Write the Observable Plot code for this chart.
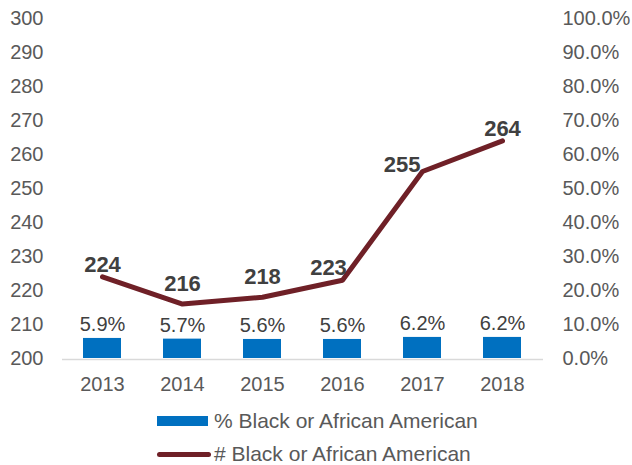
<!DOCTYPE html>
<html><head><meta charset="utf-8">
<script src="https://cdn.jsdelivr.net/npm/d3@7"></script>
<script src="https://cdn.jsdelivr.net/npm/@observablehq/plot@0.6"></script>
<style>
body{margin:0;background:#fff;font-family:"Liberation Sans",Arial,sans-serif;}
#wrap{position:relative;width:632px;height:465px;}
#chart{position:absolute;left:0;top:0;}
.leg{position:absolute;left:157px;display:flex;align-items:center;font-size:21px;line-height:16px;height:16px;color:#595959;white-space:nowrap;}
.sw-bar{width:51px;height:10px;background:#0070C0;margin-right:6px;}
.sw-line{width:54px;height:5px;background:#6f2027;border-radius:3px;margin-right:3px;}
</style></head><body>
<div id="wrap"><div id="chart"></div>
<div class="leg" style="top:413px"><div class="sw-bar"></div><span>% Black or African American</span></div>
<div class="leg" style="top:446px"><div class="sw-line"></div><span># Black or African American</span></div>
</div>
<script>
const years = ["2013", "2014", "2015", "2016", "2017", "2018"];
const pctBlack = [5.9, 5.7, 5.6, 5.6, 6.2, 6.2];
const numBlack = [224, 216, 218, 223, 255, 264];
const leftTicks = [200, 210, 220, 230, 240, 250, 260, 270, 280, 290, 300];

const data = years.map((y, i) => ({year: y, pct: pctBlack[i], num: numBlack[i]}));
// One shared y scale: counts 200–300 on the left; the right axis reads p% at 200 + p
const pctToY = p => 200 + p;
const boldLabel = {x: "year", y: "num", text: d => String(d.num), fill: "#404040", fontSize: 22, fontWeight: "bold"};

const chart = Plot.plot({
  width: 632, height: 400,
  marginTop: 18, marginBottom: 42, marginLeft: 62, marginRight: 89,
  style: {fontFamily: "Liberation Sans, Arial, sans-serif", fontSize: "20px", color: "#595959", background: "transparent"},
  x: {domain: years, type: "band", paddingInner: 0.52, paddingOuter: 0.26},
  y: {domain: [200, 300]},
  marks: [
    Plot.axisY({ticks: leftTicks, anchor: "left", tickSize: 0, tickPadding: 19, label: null, fontSize: 20, fill: "#595959"}),
    Plot.axisY({ticks: leftTicks, anchor: "right", tickSize: 0, tickPadding: 19, label: null, fontSize: 20, fill: "#595959",
      tickFormat: d => (d - 200).toFixed(1) + "%"}),
    Plot.axisX({tickSize: 0, tickPadding: 18, label: null, fontSize: 20, fill: "#595959"}),
    Plot.barY(data, {x: "year", y1: 200, y2: d => pctToY(d.pct), fill: "#0070C0"}),
    Plot.ruleY([200], {stroke: "#D9D9D9", strokeWidth: 1.5, dy: 1}),
    Plot.lineY(data, {x: "year", y: "num", stroke: "#6f2027", strokeWidth: 5, strokeLinecap: "round", strokeLinejoin: "miter"}),
    Plot.text(data, {x: "year", y: d => pctToY(d.pct), text: d => d.pct.toFixed(1) + "%", dy: -14, fill: "#404040", fontSize: 20}),
    Plot.text(data, {...boldLabel, filter: d => d.year === "2013" || d.year === "2018", dy: -12}),
    Plot.text(data, {...boldLabel, filter: d => d.year === "2014" || d.year === "2015", dy: -20}),
    Plot.text(data, {...boldLabel, filter: d => d.year === "2016", dy: -12, dx: -14}),
    Plot.text(data, {...boldLabel, filter: d => d.year === "2017", dy: -7, dx: -2, textAnchor: "end"})
  ]
});
document.getElementById("chart").appendChild(chart);
</script>
</body></html>
